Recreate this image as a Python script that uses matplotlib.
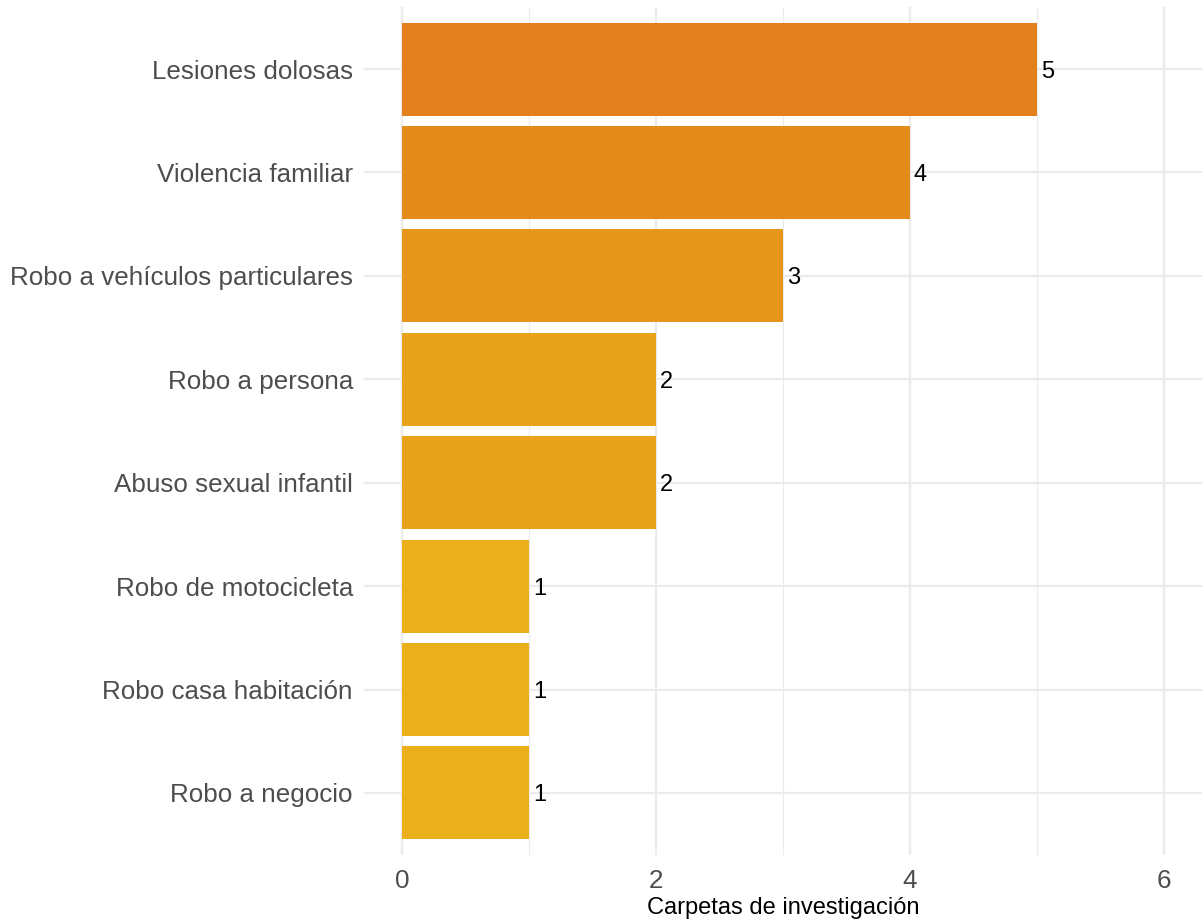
import matplotlib
matplotlib.use("Agg")
import matplotlib.pyplot as plt
from matplotlib.colors import LinearSegmentedColormap, Normalize

plt.rcParams["font.family"] = ["Liberation Sans", "DejaVu Sans"]

# datos (de abajo hacia arriba)
delitos = ["Robo a negocio", "Robo casa habitación", "Robo de motocicleta",
           "Abuso sexual infantil", "Robo a persona", "Robo a vehículos particulares",
           "Violencia familiar", "Lesiones dolosas"]
carpetas = [1, 1, 1, 2, 2, 3, 4, 5]
x_ticks = [0, 2, 4, 6]

cmap = LinearSegmentedColormap.from_list("naranja", ["#EAAF1A", "#E37F1C"])
norm = Normalize(vmin=min(carpetas), vmax=max(carpetas))

fig = plt.figure(figsize=(12.04, 9.24), dpi=100)
ax = fig.add_axes([364/1204, 1-855/924, (1202-364)/1204, (855-7)/924])

pos = list(range(1, len(delitos)+1))
ax.barh(pos, carpetas, height=0.9, color=[cmap(norm(v)) for v in carpetas], zorder=3)
for p, v in zip(pos, carpetas):
    ax.text(v + 0.03, p, str(v), va="center_baseline", ha="left", fontsize=17,
            color="black", zorder=4)

ax.set_xlim(-0.3, 6.3)
ax.set_ylim(0.4, len(delitos)+0.6)
ax.set_xticks(x_ticks)
ax.set_xticks([1, 3, 5], minor=True)
ax.set_yticks(pos)
ax.set_yticklabels(delitos, va="center_baseline")
ax.tick_params(axis="both", which="both", length=0, colors="#4D4D4D", labelsize=18.7)
ax.tick_params(axis="x", pad=10)
ax.tick_params(axis="y", pad=8)
ax.grid(True, which="major", color="#EBEBEB", linewidth=1.6, zorder=0)
ax.grid(True, which="minor", axis="x", color="#EBEBEB", linewidth=0.9, zorder=0)
for s in ax.spines.values():
    s.set_visible(False)
ax.set_xlabel("Carpetas de investigación", fontsize=17, color="black", labelpad=3)

fig.savefig("out.png", dpi=100, facecolor="white")
